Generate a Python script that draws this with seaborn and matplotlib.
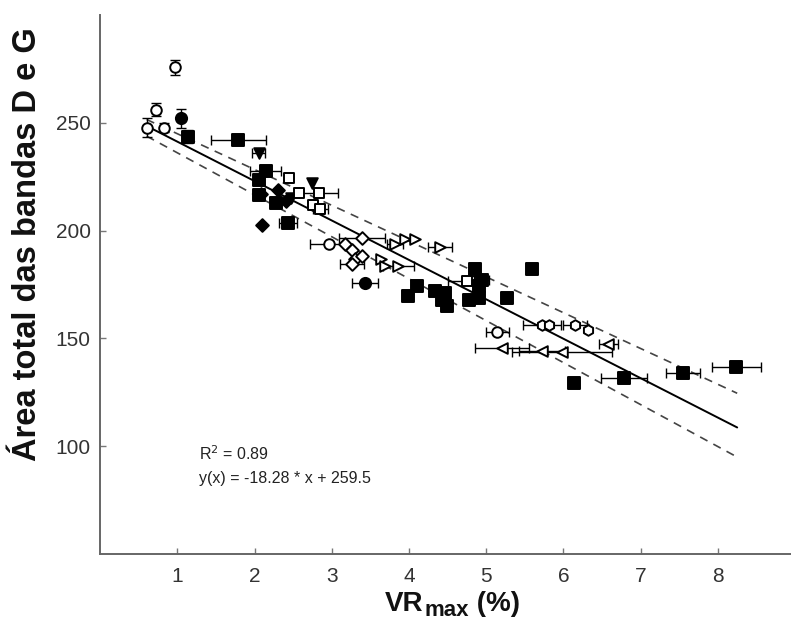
import numpy as np
import pandas as pd
import matplotlib
matplotlib.use("Agg")
import matplotlib.pyplot as plt
import seaborn as sns

# ---------------- data ----------------
# filled squares
sq_f_x = [1.13, 1.79, 2.14, 2.05, 2.05, 2.27, 2.43, 3.99, 4.10, 4.34, 4.47, 4.49, 4.42,
          4.86, 4.90, 4.77, 4.90, 4.94, 5.27, 5.59, 6.13, 6.78, 7.55, 8.24]
sq_f_y = [243.6, 241.8, 227.6, 223.7, 216.7, 212.9, 203.6, 169.6, 174.2, 171.9, 171.1, 164.9, 168.0,
          182.0, 174.2, 168.0, 168.8, 177.0, 168.8, 182.3, 129.4, 131.7, 134.0, 136.8]
sq_f_xerr = [0, 0.36, 0.20, 0, 0, 0, 0.12, 0, 0, 0, 0, 0, 0,
             0, 0, 0, 0, 0.1, 0, 0.05, 0, 0.30, 0.22, 0.32]
sq_f_yerr = [3, 0, 0, 0, 0, 0, 0, 0, 0, 0, 0, 0, 0, 3, 0, 0, 0, 0, 0, 0, 0, 0, 0, 0]

# filled circles
ci_f_x = [1.05, 3.43]
ci_f_y = [252.0, 175.8]
ci_f_xerr = [0, 0.17]
ci_f_yerr = [4.5, 0]

# filled diamonds
di_f_x = [2.08, 2.10, 2.41, 2.30]
di_f_y = [216.8, 202.8, 213.6, 219.0]
di_f_xerr = [0, 0, 0, 0]
di_f_yerr = [0, 0, 0, 0]

# filled triangles
tr_f_x = [2.05, 2.74, 2.47]
tr_f_y = [236.0, 222.2, 215.0]
tr_f_xerr = [0.08, 0, 0]
tr_f_yerr = [0, 0, 0]

# open circles
ci_o_x = [0.97, 0.72, 0.61, 0.82, 2.96, 5.14]
ci_o_y = [275.7, 256.0, 247.8, 247.8, 193.6, 152.9]
ci_o_xerr = [0, 0, 0, 0, 0.24, 0.15]
ci_o_yerr = [3.5, 3.0, 4.5, 2.0, 0, 0]

# open squares
sq_o_x = [2.44, 2.57, 2.83, 2.76, 2.85, 4.75]
sq_o_y = [224.5, 217.5, 217.5, 212.1, 210.0, 176.5]
sq_o_xerr = [0, 0, 0.25, 0, 0.1, 0.24]
sq_o_yerr = [0, 0, 0, 0, 0, 0]

# open diamonds
di_o_x = [3.17, 3.26, 3.39, 3.30, 3.26, 3.39]
di_o_y = [193.6, 191.2, 196.7, 186.6, 184.3, 188.1]
di_o_xerr = [0, 0, 0.30, 0, 0.15, 0]
di_o_yerr = [0, 0, 0, 0, 0, 0]

# open right triangles
tr_r_x = [3.82, 3.95, 4.08, 4.40, 3.63, 3.69, 3.86]
tr_r_y = [193.6, 195.9, 195.9, 192.5, 186.6, 183.5, 183.5]
tr_r_xerr = [0.10, 0, 0, 0.16, 0, 0, 0.20]
tr_r_yerr = [0, 0, 0, 0, 0, 0, 0]

# open left triangles
tr_l_x = [6.58, 5.20, 5.72, 5.98]
tr_l_y = [147.2, 145.6, 144.1, 143.8]
tr_l_xerr = [0.12, 0.35, 0.30, 0.65]
tr_l_yerr = [0, 0, 0, 0]

# open hexagons
hx_o_x = [5.72, 5.81, 6.15, 6.32]
hx_o_y = [156.0, 156.0, 156.0, 154.1]
hx_o_xerr = [0.25, 0, 0.15, 0]
hx_o_yerr = [0, 0, 0, 0]

# fit and band lines (slope, intercept) over x range
fit_slope, fit_icpt = -18.28, 259.5
upper_slope, upper_icpt = -16.6, 261.5
lower_slope, lower_icpt = -19.46, 255.5
fit_xrange = [0.6, 8.25]

xticks = [1, 2, 3, 4, 5, 6, 7, 8]
yticks = [100, 150, 200, 250]

# ---------------- figure ----------------
sns.set_theme(style="ticks")
plt.rcParams['font.family'] = ['Liberation Sans', 'DejaVu Sans']

W, H = 791, 620
fig = plt.figure(figsize=(W / 100, H / 100), dpi=100)
ax = fig.add_axes([100.3 / W, 1 - 554 / H, (W - 100.3) / W, 539 / H])

# lines
xs = np.array(fit_xrange)
line_df = pd.DataFrame({
    "x": np.concatenate([xs, xs, xs]),
    "y": np.concatenate([fit_slope * xs + fit_icpt,
                         upper_slope * xs + upper_icpt,
                         lower_slope * xs + lower_icpt]),
    "kind": ["fit"] * 2 + ["upper"] * 2 + ["lower"] * 2,
})
sns.lineplot(data=line_df[line_df.kind == "fit"], x="x", y="y", color="black",
             lw=1.4, ax=ax, zorder=2)
for k in ["upper", "lower"]:
    sns.lineplot(data=line_df[line_df.kind == k], x="x", y="y", color="#444444",
                 lw=1.2, ax=ax, zorder=2, linestyle=(0, (5, 4)))

series = [
    (sq_f_x, sq_f_y, sq_f_xerr, sq_f_yerr, "s", "black", 65),
    (ci_f_x, ci_f_y, ci_f_xerr, ci_f_yerr, "o", "black", 65),
    (di_f_x, di_f_y, di_f_xerr, di_f_yerr, "D", "black", 42),
    (tr_f_x, tr_f_y, tr_f_xerr, tr_f_yerr, "v", "black", 58),
    (ci_o_x, ci_o_y, ci_o_xerr, ci_o_yerr, "o", "white", 58),
    (sq_o_x, sq_o_y, sq_o_xerr, sq_o_yerr, "s", "white", 58),
    (di_o_x, di_o_y, di_o_xerr, di_o_yerr, "D", "white", 42),
    (tr_r_x, tr_r_y, tr_r_xerr, tr_r_yerr, ">", "white", 58),
    (tr_l_x, tr_l_y, tr_l_xerr, tr_l_yerr, "<", "white", 58),
    (hx_o_x, hx_o_y, hx_o_xerr, hx_o_yerr, "h", "white", 58),
]
for sx, sy, sxe, sye, m, fc, s in series:
    sx = np.array(sx); sy = np.array(sy); sxe = np.array(sxe); sye = np.array(sye)
    mx = sxe > 0
    if mx.any():
        ax.errorbar(sx[mx], sy[mx], xerr=sxe[mx], fmt="none", ecolor="black",
                    elinewidth=1.0, capsize=3.5, capthick=1.0, zorder=3)
    my = sye > 0
    if my.any():
        ax.errorbar(sx[my], sy[my], yerr=sye[my], fmt="none", ecolor="black",
                    elinewidth=1.0, capsize=3.5, capthick=1.0, zorder=3)
    sns.scatterplot(x=sx, y=sy, marker=m, s=s, color=fc, edgecolor="black",
                    linewidth=1.4, ax=ax, zorder=4)

ax.set_xlabel("")
ax.set_ylabel("")

ax.text(1.28, 96.5, r"R$^2$ = 0.89", fontsize=11.5, color="#222222", va="center")
ax.text(1.28, 85.0, "y(x) = -18.28 * x + 259.5", fontsize=11.5, color="#222222", va="center")

ax.set_xlim(0, 8.947)
ax.set_ylim(50, 300)
ax.set_xticks(xticks)
ax.set_yticks(yticks)
ax.tick_params(direction="in", length=4, width=1, colors="#777777",
               labelcolor="#333333", labelsize=15)
ax.tick_params(axis="y", pad=7)
ax.tick_params(axis="x", pad=9)
for sp in ["top", "right"]:
    ax.spines[sp].set_visible(False)
for sp in ["left", "bottom"]:
    ax.spines[sp].set_color("#666666")
    ax.spines[sp].set_linewidth(1.4)

# y label
ax.text(-0.106, 0.575, "Área total das bandas D e G", transform=ax.transAxes,
        rotation=90, ha="center", va="center", fontsize=23.5, fontweight="bold",
        color="#111111")

# x label built from pieces: "VR" + subscript "max" + " (%)"
big, small = 20, 16
t1 = fig.text(0, 0, "VR", fontsize=big, fontweight="bold", color="#111111")
t2 = fig.text(0, 0, "max", fontsize=small, fontweight="bold", color="#111111")
t3 = fig.text(0, 0, " (%)", fontsize=big, fontweight="bold", color="#111111")
fig.canvas.draw()
r = fig.canvas.get_renderer()
w1 = t1.get_window_extent(r).width
w2 = t2.get_window_extent(r).width
w3 = t3.get_window_extent(r).width
total = w1 + w2 + w3
cx, base = 452, H - 611  # center x and baseline (pixels from bottom)
x0 = cx - total / 2
for t, xx, yy in [(t1, x0, base), (t2, x0 + w1 + 1, base - 5), (t3, x0 + w1 + w2 + 1, base)]:
    t.set_position((xx / W, yy / H))
    t.set_va("baseline")

fig.savefig("out.png", dpi=100)
